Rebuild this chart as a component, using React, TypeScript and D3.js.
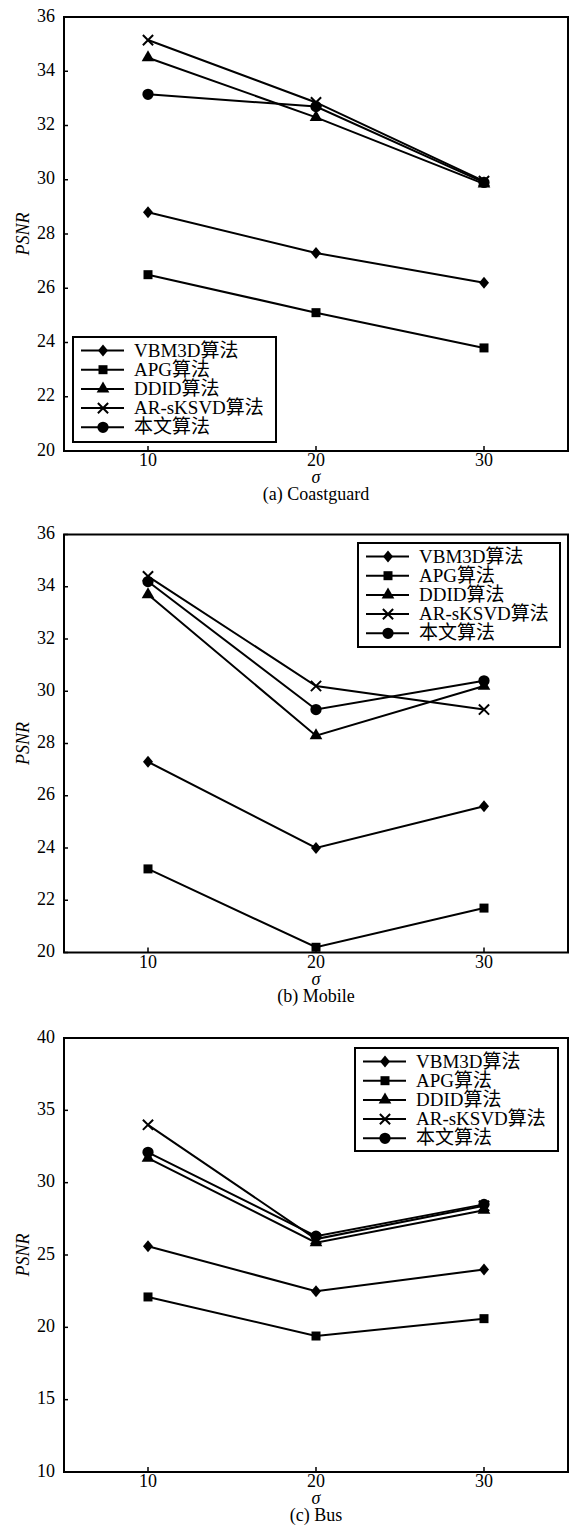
import React from "react";
import * as d3 from "d3";

// noise level on the x axis
const sigma = [10, 20, 30];
const xTicks = [10, 20, 30];
const methods = ["VBM3D算法", "APG算法", "DDID算法", "AR-sKSVD算法", "本文算法"];
const markerKinds = ["diamond", "square", "triangle", "times", "circle"];

// PSNR per method (same order as methods)
const coastguardPSNR = [
  [28.8, 27.3, 26.2],
  [26.5, 25.1, 23.8],
  [34.5, 32.3, 29.85],
  [35.15, 32.85, 29.95],
  [33.15, 32.7, 29.9],
];
const mobilePSNR = [
  [27.3, 24.0, 25.6],
  [23.2, 20.2, 21.7],
  [33.7, 28.3, 30.2],
  [34.4, 30.2, 29.3],
  [34.2, 29.3, 30.4],
];
const busPSNR = [
  [25.6, 22.5, 24.0],
  [22.1, 19.4, 20.6],
  [31.7, 25.85, 28.1],
  [34.0, 26.1, 28.4],
  [32.1, 26.3, 28.5],
];
const coastguardTicks = [20, 22, 24, 26, 28, 30, 32, 34, 36];
const mobileTicks = [20, 22, 24, 26, 28, 30, 32, 34, 36];
const busTicks = [10, 15, 20, 25, 30, 35, 40];

const FONT = "'Liberation Serif', 'Times New Roman', 'Noto Sans CJK SC', serif";

const tallDiamond = {
  draw(ctx: any, size: number) {
    const r = Math.sqrt(size) / 2;
    ctx.moveTo(0, -r * 1.2);
    ctx.lineTo(r, 0);
    ctx.lineTo(0, r * 1.2);
    ctx.lineTo(-r, 0);
    ctx.closePath();
  },
};

function markerPath(kind: string) {
  if (kind === "diamond") return d3.symbol(tallDiamond as any, 100)();
  if (kind === "square") return d3.symbol(d3.symbolSquare, 81)();
  if (kind === "triangle") return d3.symbol(d3.symbolTriangle, 70)();
  if (kind === "times") return d3.symbol(d3.symbolTimes, 70)();
  return d3.symbol(d3.symbolCircle, 100)();
}

function Marker({ kind, x, y }: { kind: string; x: number; y: number }) {
  const stroked = kind === "times";
  return (
    <path
      d={markerPath(kind) || ""}
      transform={`translate(${x},${y})`}
      fill={stroked ? "none" : "#000"}
      stroke={stroked ? "#000" : "none"}
      strokeWidth={stroked ? 2 : 0}
    />
  );
}

const LEFT = 64;
const RIGHT = 568;

function Panel(props: {
  top: number;
  bottom: number;
  domain: [number, number];
  ticks: number[];
  series: number[][];
  legend: { x: number; y: number; w: number; h: number };
  caption: string;
}) {
  const { top, bottom, domain, ticks, series, legend, caption } = props;
  const x = d3.scaleLinear().domain([5, 35]).range([LEFT, RIGHT]);
  const y = d3.scaleLinear().domain(domain).range([bottom, top]);
  const line = d3
    .line<number>()
    .x((_, i) => x(sigma[i]))
    .y((d) => y(d));

  return (
    <g fontFamily={FONT} fill="#000">
      {series.map((s, k) => (
        <g key={k}>
          <path d={line(s) || ""} fill="none" stroke="#000" strokeWidth={2} />
          {s.map((v, i) => (
            <Marker key={i} kind={markerKinds[k]} x={x(sigma[i])} y={y(v)} />
          ))}
        </g>
      ))}

      <rect x={LEFT} y={top} width={RIGHT - LEFT} height={bottom - top} fill="none" stroke="#000" strokeWidth={2} />

      {ticks.map((t) => (
        <g key={t}>
          <line x1={LEFT} x2={LEFT + 4} y1={y(t)} y2={y(t)} stroke="#000" strokeWidth={1.5} />
          <text x={LEFT - 9} y={y(t) + 4.5} textAnchor="end" fontSize={18}>
            {t}
          </text>
        </g>
      ))}
      {xTicks.map((t) => (
        <g key={t}>
          <line x1={x(t)} x2={x(t)} y1={bottom} y2={bottom - 5} stroke="#000" strokeWidth={1.5} />
          <text x={x(t)} y={bottom + 15} textAnchor="middle" fontSize={18}>
            {t}
          </text>
        </g>
      ))}

      <text x={x(20)} y={bottom + 32} textAnchor="middle" fontSize={18} fontStyle="italic">
        σ
      </text>
      <text x={x(20)} y={bottom + 49} textAnchor="middle" fontSize={18}>
        {caption}
      </text>
      <text
        transform={`translate(${29},${(top + bottom) / 2}) rotate(-90)`}
        textAnchor="middle"
        fontSize={18}
        fontStyle="italic"
      >
        PSNR
      </text>

      <rect x={legend.x} y={legend.y} width={legend.w} height={legend.h} fill="#fff" stroke="#000" strokeWidth={2} />
      {methods.map((m, k) => {
        const cy = legend.y + 13.5 + k * 19.2;
        return (
          <g key={m}>
            <line x1={legend.x + 8} x2={legend.x + 51} y1={cy} y2={cy} stroke="#000" strokeWidth={2} />
            <Marker kind={markerKinds[k]} x={legend.x + 30} y={cy} />
            <text x={legend.x + 61} y={cy + 6} fontSize={19}>
              {m}
            </text>
          </g>
        );
      })}
    </g>
  );
}

export default function App() {
  return (
    <div style={{ position: "absolute", left: 0, top: 0 }}>
      <svg width={571} height={1529} style={{ display: "block", background: "#fff" }}>
        <Panel
          top={17}
          bottom={451}
          domain={[20, 36]}
          ticks={coastguardTicks}
          series={coastguardPSNR}
          legend={{ x: 73, y: 337, w: 203, h: 105 }}
          caption="(a) Coastguard"
        />
        <Panel
          top={534.5}
          bottom={952.5}
          domain={[20, 36]}
          ticks={mobileTicks}
          series={mobilePSNR}
          legend={{ x: 358, y: 543, w: 202, h: 104 }}
          caption="(b) Mobile"
        />
        <Panel
          top={1038}
          bottom={1472}
          domain={[10, 40]}
          ticks={busTicks}
          series={busPSNR}
          legend={{ x: 355, y: 1048, w: 203, h: 103 }}
          caption="(c) Bus"
        />
      </svg>
    </div>
  );
}
